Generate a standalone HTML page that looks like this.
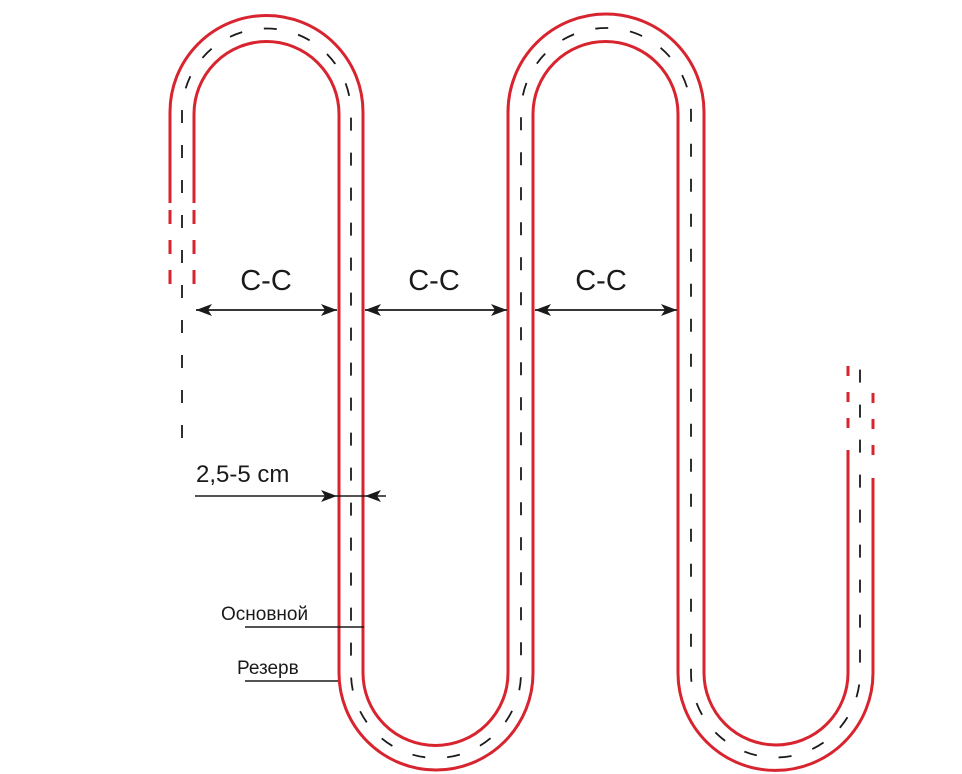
<!DOCTYPE html>
<html><head><meta charset="utf-8"><style>
html,body{margin:0;padding:0;background:#fff;width:962px;height:774px;overflow:hidden}
text{font-family:"Liberation Sans",sans-serif;fill:#1a1a1a}
</style></head><body>
<svg width="962" height="774" viewBox="0 0 962 774" xmlns="http://www.w3.org/2000/svg">
<defs>
<marker id="ar" viewBox="0 0 16 12" refX="16" refY="6" markerWidth="16" markerHeight="12" markerUnits="userSpaceOnUse" orient="auto">
<path d="M0,0 L16,6 L0,12 L4,6 z" fill="#1a1a1a"/></marker>
</defs>
<g fill="none" stroke="#d8242f" stroke-width="3">
<path d="M170,203 L170,112 A96.5,96.5 0 0 1 363,112 L363,673 A72.5,72.5 0 0 0 508,673 L508,112 A98,98 0 0 1 704,112 L704,673 A72,72 0 0 0 848,673 L848,450"/>
<path d="M194,203 L194,114 A72.5,72.5 0 0 1 339,114 L339,673 A97,97 0 0 0 533,673 L533,114 A72.5,72.5 0 0 1 678,114 L678,673 A97.5,97.5 0 0 0 873,673 L873,478"/>
<path d="M170,210 L170,298" stroke-dasharray="14,16"/>
<path d="M194,210 L194,298" stroke-dasharray="14,16"/>
<path d="M848,366 L848,436" stroke-dasharray="10,16"/>
<path d="M873,393 L873,464" stroke-dasharray="10,16"/>
</g>
<g fill="none" stroke="#1a1a1a" stroke-width="1.8" stroke-dasharray="13,22">
<path d="M182,438 L182,113 A84.5,84.5 0 0 1 351,113 L351,673 A85,85 0 0 0 521,673 L521,113 A85,85 0 0 1 691,113 L691,673 A84.5,84.5 0 0 0 860,673 L860,362"/>
</g>
<g stroke="#1a1a1a" stroke-width="1.5" fill="none">
<line x1="196" y1="310" x2="337" y2="310" marker-end="url(#ar)"/>
<line x1="337" y1="310" x2="196" y2="310" marker-end="url(#ar)"/>
<line x1="365" y1="310" x2="507" y2="310" marker-end="url(#ar)"/>
<line x1="507" y1="310" x2="365" y2="310" marker-end="url(#ar)"/>
<line x1="535" y1="310" x2="677" y2="310" marker-end="url(#ar)"/>
<line x1="677" y1="310" x2="535" y2="310" marker-end="url(#ar)"/>
<line x1="195" y1="496" x2="337" y2="496" marker-end="url(#ar)"/>
<line x1="386" y1="496" x2="365" y2="496" marker-end="url(#ar)"/>
<line x1="337" y1="496" x2="365" y2="496"/>
<line x1="245" y1="627" x2="364" y2="627"/>
<line x1="245" y1="681" x2="338" y2="681"/>
</g>
<text x="266" y="290" font-size="29" text-anchor="middle">C-C</text>
<text x="434" y="290" font-size="29" text-anchor="middle">C-C</text>
<text x="601" y="290" font-size="29" text-anchor="middle">C-C</text>
<text x="196" y="482" font-size="24">2,5-5 cm</text>
<text x="221" y="620" font-size="19">Основной</text>
<text x="237" y="674" font-size="19">Резерв</text>
</svg>
</body></html>
